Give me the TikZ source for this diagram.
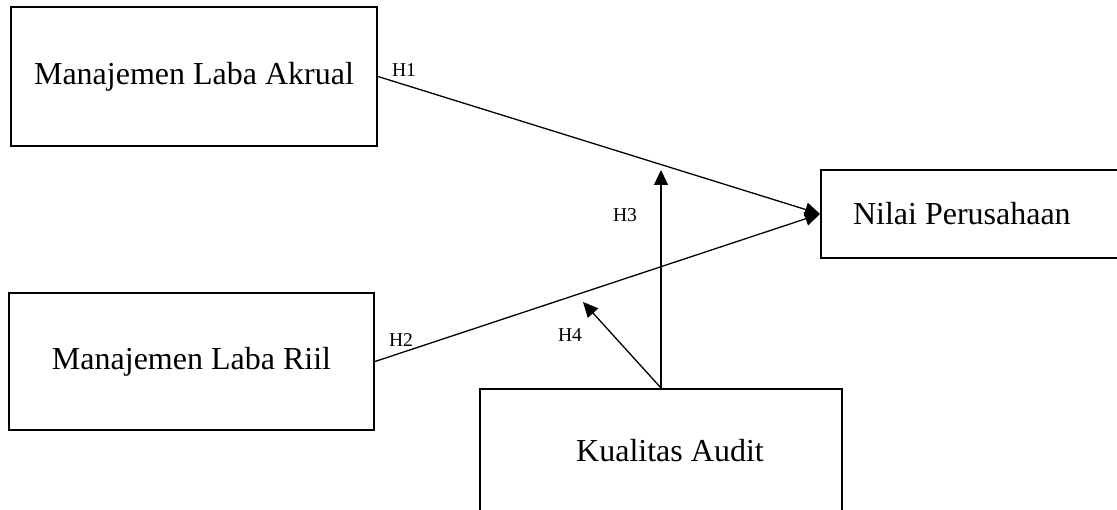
\documentclass[tikz,border=0pt]{standalone}
\usepackage{fontspec}
\setmainfont{Liberation Serif}
\usetikzlibrary{arrows.meta}
\tikzset{
  varbox/.style={draw,line width=1pt,fill=white,inner sep=0pt,font=\fontsize{16}{19}\selectfont},
  hyp/.style={line width=0.65pt,-{Triangle[length=7.5pt,width=7pt]}},
  hlabel/.style={font=\fontsize{9.8}{11}\selectfont,inner sep=0pt}
}
\begin{document}
\begin{tikzpicture}[x=0.5pt,y=0.5pt]
\useasboundingbox[fill=white] (0,0) rectangle (1117,509);
\node[varbox,minimum width=183pt,minimum height=69.5pt] (akrual) at (194,432.5) {Manajemen Laba Akrual};
\node[varbox,minimum width=182.5pt,minimum height=68.5pt] (riil) at (191.5,147.5) {Manajemen Laba Riil};
\node[varbox,anchor=west,inner xsep=16pt,minimum height=44pt] (nilai) at (820,295) {Nilai Perusahaan\kern20pt};
\node[varbox,minimum width=181pt,minimum height=61.5pt] (audit) at (661,58.5) {\kern9pt Kualitas Audit};
\coordinate (t3) at (661,339);
\coordinate (t4) at (583,207);
\draw[hyp] (akrual.east) -- (nilai.west);
\draw[hyp] (riil.east) -- (nilai.west);
\draw[hyp] (audit.north) -- (t3);
\draw[hyp] (audit.north) -- (t4);
\node[hlabel] (h1) at (404,439) {H1};
\node[hlabel] (h2) at (401,169) {H2};
\node[hlabel] (h3) at (625,294) {H3};
\node[hlabel] (h4) at (570,174) {H4};
\end{tikzpicture}
\end{document}
